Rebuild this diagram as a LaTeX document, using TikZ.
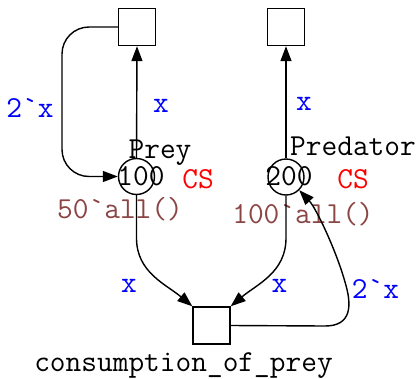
\documentclass[tikz,border=0pt]{standalone}
\usetikzlibrary{arrows.meta}
\definecolor{inscol}{RGB}{139,69,69}
\newcommand\bq{\char"60\relax}
\begin{document}
\begin{tikzpicture}[x=1pt,y=1pt,
  font=\ttfamily\fontsize{30.5}{34}\selectfont,
  trans/.style={draw,line width=1.4pt,minimum size=37pt,inner sep=0pt},
  place/.style={draw,circle,line width=1.4pt,minimum size=36pt,inner sep=0pt},
  lbl/.style={anchor=base,inner sep=0pt},
  arc/.style={line width=1.4pt,-{Triangle[length=15pt,width=11pt]}},
  arclbl/.style={lbl,text=blue}]
\useasboundingbox (0,0) rectangle (418,-378);

% transitions
\node[trans] (tl) at (137,-27) {};
\node[trans] (tr) at (286,-27) {};
\node[trans] (cons) at (211.5,-325.5) {};

% places
\node[place] (prey) at (136.5,-176.5) {};
\node[place] (pred) at (286,-177) {};

% place texts
\node[lbl] (preyv) at (141,-185) {100};
\node[lbl] (predv) at (289,-185) {200};
\node[lbl] (preyn) at (160,-158) {Prey};
\node[lbl] (predn) at (353,-155) {Predator};
\node[lbl,text=red] (preycs) at (198,-188) {CS};
\node[lbl,text=red] (predcs) at (353,-188) {CS};
\node[lbl,text=inscol] (preyi) at (120,-218) {50\bq all()};
\node[lbl,text=inscol] (predi) at (303,-223) {100\bq all()};
\node[lbl] (consn) at (183.5,-371) {consumption\_of\_prey};

% arcs
\draw[arc] (prey.north) -- (tl.south);
\draw[arc] (pred.north) -- (tr.south);
\draw[arc,rounded corners=27pt] (tl.west) -- (62,-27) -- (62,-176.5) -- (prey.west);
\draw[arc] (prey.south) -- (136.5,-238) to[out=-90,in=140] (cons.north west);
\draw[arc] (pred.south) -- (286,-238) to[out=-90,in=40] (cons.north east);
\draw[arc] (cons.east) -- (325,-326) .. controls (352,-326) and (352,-305) .. (345,-282)
  .. controls (336,-250) and (316,-208) .. (pred.-45);

% arc inscriptions
\node[arclbl] (a1) at (161,-112) {x};
\node[arclbl] (a2) at (304,-110) {x};
\node[arclbl] (a3) at (30,-117) {2\bq x};
\node[arclbl] (a4) at (129,-292) {x};
\node[arclbl] (a5) at (279.5,-292) {x};
\node[arclbl] (a6) at (375.5,-298) {2\bq x};
\end{tikzpicture}
\end{document}
